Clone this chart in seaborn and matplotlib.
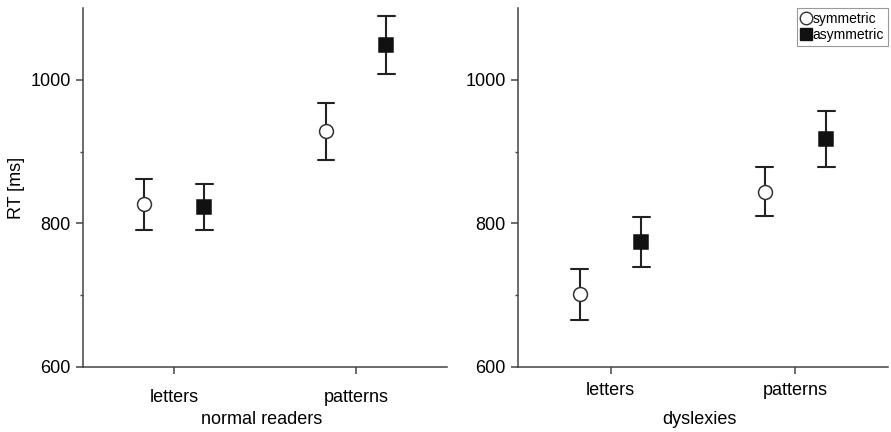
import numpy as np
import pandas as pd
import matplotlib
matplotlib.use("Agg")
import matplotlib.pyplot as plt
from matplotlib.lines import Line2D
import seaborn as sns

sns.set_style("ticks")
plt.rcParams["font.family"] = ["Liberation Sans", "DejaVu Sans"]
plt.rcParams["text.color"] = "black"
plt.rcParams["axes.labelcolor"] = "black"
plt.rcParams["xtick.labelcolor"] = "black"
plt.rcParams["ytick.labelcolor"] = "black"

groups = ["normal readers", "dyslexies"]
stimuli = ["letters", "patterns"]
conditions = ["symmetric", "asymmetric"]

# normal readers
normal_sym_mean = [827, 929]
normal_sym_lo = [791, 888]
normal_sym_hi = [862, 968]
normal_asym_mean = [823, 1048]
normal_asym_lo = [791, 1008]
normal_asym_hi = [855, 1089]
# dyslexies
dys_sym_mean = [701, 844]
dys_sym_lo = [666, 810]
dys_sym_hi = [737, 878]
dys_asym_mean = [774, 917]
dys_asym_lo = [739, 879]
dys_asym_hi = [809, 957]

y_ticks_major = [600, 800, 1000]
y_ticks_minor = [700, 900]

series = {
    ("normal readers", "symmetric"): (normal_sym_lo, normal_sym_mean, normal_sym_hi),
    ("normal readers", "asymmetric"): (normal_asym_lo, normal_asym_mean, normal_asym_hi),
    ("dyslexies", "symmetric"): (dys_sym_lo, dys_sym_mean, dys_sym_hi),
    ("dyslexies", "asymmetric"): (dys_asym_lo, dys_asym_mean, dys_asym_hi),
}
rows = []
for (g, c), (lo, mu, hi) in series.items():
    for i, s in enumerate(stimuli):
        for v in (lo[i], mu[i], hi[i]):
            rows.append({"group": g, "stimulus": s, "condition": c, "rt": v})
df = pd.DataFrame(rows)

fig = plt.figure(figsize=(8.91, 4.32), dpi=100)
ax1 = fig.add_axes([0.0932, 0.1505, 0.4085, 0.831])
ax2 = fig.add_axes([0.5814, 0.1505, 0.4152, 0.831])

spine_col = "#444444"
for ax, g in [(ax1, "normal readers"), (ax2, "dyslexies")]:
    sub = df[df["group"] == g]
    sns.pointplot(data=sub, x="stimulus", y="rt", hue="condition",
                  order=stimuli, hue_order=conditions,
                  estimator=np.median, errorbar=lambda v: (v.min(), v.max()),
                  palette={"symmetric": "#222222", "asymmetric": "#222222"},
                  markers=["o", "s"], linestyles="none", dodge=0.333,
                  capsize=0.09, err_kws={"linewidth": 1.5},
                  markersize=10, markeredgewidth=1.1,
                  legend=False, ax=ax)
    for ln in ax.lines:
        if ln.get_marker() == "o":
            ln.set_markerfacecolor("white")
            ln.set_markeredgecolor("#333333")
            ln.set_zorder(5)
        elif ln.get_marker() == "s":
            ln.set_markerfacecolor("#111111")
            ln.set_markeredgecolor("#111111")
            ln.set_zorder(5)
    ax.set_xlim(-0.5, 1.5)
    ax.set_ylim(600, 1100)
    ax.set_yticks(y_ticks_major)
    ax.set_yticks(y_ticks_minor, minor=True)
    ax.tick_params(axis="y", which="major", labelsize=13, length=5,
                   width=1.1, color=spine_col, pad=4)
    ax.tick_params(axis="y", which="minor", length=2, width=1.0,
                   color=spine_col, direction="out")
    ax.tick_params(axis="x", labelsize=13, length=5, width=1.1, color=spine_col)
    for side in ["top", "right"]:
        ax.spines[side].set_visible(False)
    for side in ["left", "bottom"]:
        ax.spines[side].set_color(spine_col)
        ax.spines[side].set_linewidth(1.1)
    ax.set_xlabel(g, fontsize=13)
    ax.xaxis.set_label_coords(0.49, -0.122)
    ax.grid(False)

ax1.tick_params(axis="x", pad=11)
ax2.tick_params(axis="x", pad=6)
ax1.set_ylabel("RT [ms]", fontsize=13)
ax2.set_ylabel("")

handles = [
    Line2D([], [], linestyle="none", marker="o", markersize=9,
           markerfacecolor="white", markeredgecolor="#333333", markeredgewidth=1.0),
    Line2D([], [], linestyle="none", marker="s", markersize=9,
           markerfacecolor="#111111", markeredgecolor="#111111"),
]
leg = ax2.legend(handles, conditions, loc="upper right", fontsize=10,
                 frameon=True, fancybox=False, framealpha=1,
                 edgecolor="#999999", handlelength=0.7, handletextpad=0.1,
                 borderpad=0.3, labelspacing=0.15, borderaxespad=0.0,
                 bbox_to_anchor=(1.0, 1.0))
leg.get_frame().set_linewidth(0.8)

fig.savefig("out.png", dpi=100)
